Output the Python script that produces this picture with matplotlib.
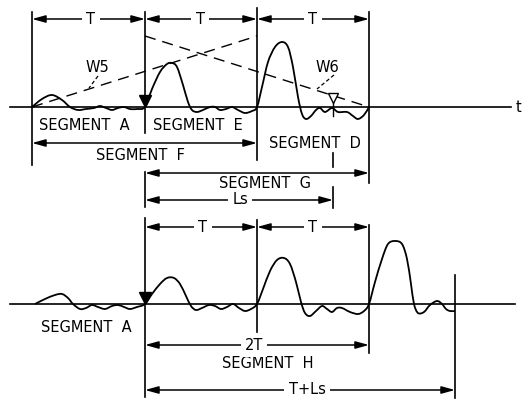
import numpy as np
from matplotlib import pyplot as plt
from matplotlib.path import Path
from matplotlib.patches import PathPatch

# time marks along the two traces (px)
top_marks = [32, 145, 257, 369]
bot_marks = [145, 257, 369, 455]
ls_mark = 333

# top trace: x and height above the zero line
top_x = [32, 42, 52, 62, 70, 78, 86, 94, 100, 106, 112, 118, 124, 130, 137, 145,
         152, 160, 167, 172, 177, 183, 188, 192, 197, 203, 210, 215, 220, 226, 232, 238, 245, 252, 257,
         262, 268, 275, 282, 288, 293, 298, 302, 306, 311, 316, 320, 325, 332, 338, 347, 353, 358, 364, 369]
top_h = [0, 8, 12, 7, 0, -3, -2, -1, 1, -1, -3, -1, 0, -2, -2, 0,
         18, 35, 43, 44, 40, 22, 5, -3, -5, -3, 0, 0, -3, -2, 0, -3, -6, -4, 0,
         20, 45, 60, 65, 60, 40, 10, -7, -12, -9, -3, -1, -5, -1, -5, -5, -9, -12, -8, 0]

# bottom trace
bot_x = [35, 45, 55, 62, 68, 73, 80, 86, 92, 98, 105, 112, 118, 124, 130, 137, 145,
         152, 160, 167, 174, 180, 186, 191, 196, 202, 209, 215, 221, 227, 233, 239, 245, 251, 257,
         263, 270, 277, 284, 290, 296, 301, 305, 310, 316, 322, 327, 332, 337, 342, 350, 358, 364, 369,
         375, 382, 388, 395, 402, 407, 411, 414, 418, 424, 430, 437, 442, 446, 450, 455]
bot_h = [0, 5, 9, 10, 6, 0, -5, -4, -1, -3, -5, -2, -1, -3, -5, -3, 0,
         10, 20, 26, 26, 20, 8, -2, -6, -4, -1, -2, -5, -3, 0, -4, -7, -5, 0,
         15, 33, 44, 46, 40, 22, 2, -9, -12, -7, -2, -5, -8, -4, -4, -8, -10, -7, 0,
         22, 45, 60, 63, 60, 45, 20, 0, -9, -8, -1, 3, 0, -5, -7, -7]

# dimension rows: (start, end, row, inline label, label x)
top_dims = [(32, 145, 19, 'T', 91), (145, 257, 19, 'T', 200), (257, 369, 19, 'T', 313),
            (32, 257, 143, None, 0), (145, 369, 173, None, 0), (145, ls_mark, 200, 'Ls', 240)]
bot_dims = [(145, 257, 227, 'T', 203), (257, 369, 227, 'T', 313),
            (145, 369, 345, '2T', 254), (145, 455, 390, 'T+Ls', 307)]

seg_labels = [('SEGMENT  A', 84, 126), ('SEGMENT  E', 198, 126), ('SEGMENT  D', 315, 143),
              ('SEGMENT  F', 140, 155), ('SEGMENT  G', 265, 183),
              ('SEGMENT  A', 86, 328), ('SEGMENT  H', 268, 364)]

TOP_BASE = 107
BOT_BASE = 304
FS = 10.5


def smooth(ax, xs, hs, base):
    pts = np.column_stack([xs, base - np.asarray(hs, float)])
    verts = [pts[0]]
    codes = [Path.MOVETO]
    n = len(pts)
    for i in range(n - 1):
        p0 = pts[max(i - 1, 0)]
        p1 = pts[i]
        p2 = pts[i + 1]
        p3 = pts[min(i + 2, n - 1)]
        verts += [p1 + (p2 - p0) / 6, p2 - (p3 - p1) / 6, p2]
        codes += [Path.CURVE4] * 3
    ax.add_patch(PathPatch(Path(verts, codes), fc='none', ec='k', lw=1.3))


def dim(ax, x1, x2, y, label, lx):
    ax.annotate('', xy=(x2, y), xytext=(x1, y),
                arrowprops=dict(arrowstyle='<|-|>,head_length=0.8,head_width=0.22',
                                color='k', lw=1.1, shrinkA=0, shrinkB=0))
    if label:
        ax.text(lx, y, label, ha='center', va='center', fontsize=FS, zorder=5,
                bbox=dict(fc='white', ec='none', pad=3))


fig = plt.figure(figsize=(5.24, 4.01), dpi=100)
ax = fig.add_axes([0, 0, 1, 1])
ax.set_xlim(0, 524)
ax.set_ylim(401, 0)
ax.axis('off')

# zero lines
ax.plot([10, 511], [TOP_BASE, TOP_BASE], color='k', lw=1.2)
ax.plot([10, 515], [BOT_BASE, BOT_BASE], color='k', lw=1.2)
ax.text(518, TOP_BASE, 't', ha='center', va='center', fontsize=FS)

# extension lines
vlines = [(top_marks[0], 12, 165), (top_marks[1], 12, 133), (top_marks[1], 172, 207),
          (top_marks[2], 8, 160), (top_marks[3], 12, 183),
          (ls_mark, 153, 167), (ls_mark, 187, 208),
          (bot_marks[0], 218, 397), (bot_marks[1], 220, 332),
          (bot_marks[2], 225, 353), (bot_marks[3], 275, 398)]
for x, y0, y1 in vlines:
    ax.plot([x, x], [y0, y1], color='k', lw=1.2)

# window functions W5 / W6
ax.plot([top_marks[0], top_marks[2]], [TOP_BASE, 36], color='k', lw=1.0, dashes=(8, 5))
ax.plot([top_marks[1], top_marks[3]], [36, TOP_BASE], color='k', lw=1.0, dashes=(8, 5))
ax.text(97, 67, 'W5', ha='center', va='center', fontsize=FS)
ax.plot([98, 89], [76, 88], color='k', lw=0.9, dashes=(3, 2))
ax.text(327, 67, 'W6', ha='center', va='center', fontsize=FS)
ax.plot([334, 317], [75, 89], color='k', lw=0.9, dashes=(3, 2))

smooth(ax, top_x, top_h, TOP_BASE)
smooth(ax, bot_x, bot_h, BOT_BASE)

# markers
ax.plot(145, 101, marker='v', ms=8.5, color='k')
ax.plot(145, 298, marker='v', ms=8.5, color='k')
ax.plot([333, 333], [99, 116], color='k', lw=1.0)
ax.plot(333, 98, marker='v', ms=7, mfc='white', mec='k', mew=1.0)

for x1, x2, y, lab, lx in top_dims + bot_dims:
    dim(ax, x1, x2, y, lab, lx)

for txt, x, y in seg_labels:
    ax.text(x, y, txt, ha='center', va='center', fontsize=FS)

fig.savefig('out.png', dpi=100)
